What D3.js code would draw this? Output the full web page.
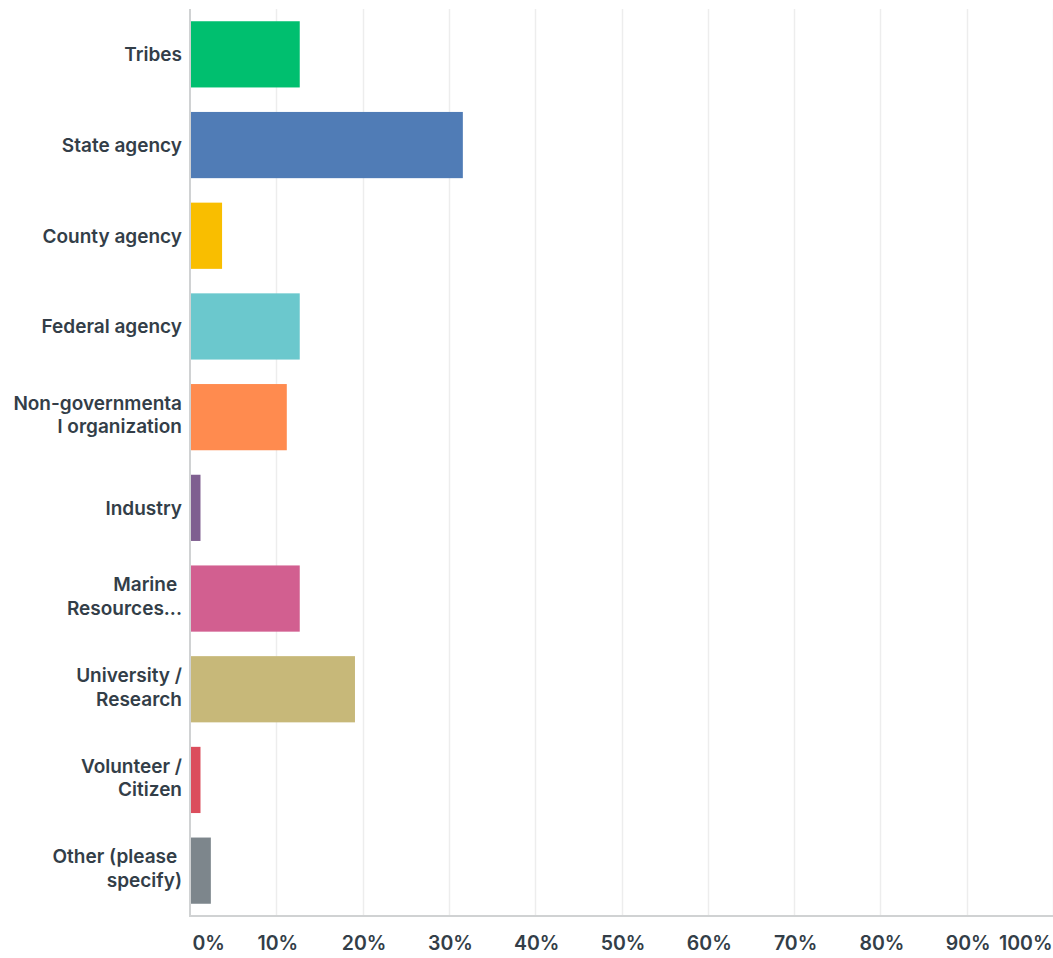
<!DOCTYPE html>
<html>
<head>
<meta charset="utf-8">
<script src="https://cdn.jsdelivr.net/npm/d3@7"></script>
<style>
  html, body { margin: 0; padding: 0; background: #fff; }
  svg text { font-family: Inter, "Open Sans", sans-serif; font-weight: 600; fill: #333e48; }
</style>
</head>
<body>
<svg id="chart" width="1053" height="958"></svg>
<script>
// Response categories, each split into the lines shown beside its bar
const categories = [
  ["Tribes"],
  ["State agency"],
  ["County agency"],
  ["Federal agency"],
  ["Non-governmenta", "l organization"],
  ["Industry"],
  ["Marine ", "Resources..."],
  ["University /", "Research"],
  ["Volunteer /", "Citizen"],
  ["Other (please ", "specify)"]
];
// Share of respondents, percent
const values = [12.6, 31.5, 3.6, 12.6, 11.1, 1.1, 12.6, 19.0, 1.1, 2.3];
const colors = ["#00bf6f", "#507cb6", "#f9be00", "#6bc8cd", "#ff8b4f",
                "#7f5f90", "#d25f90", "#c7b879", "#db4d5c", "#7d868c"];
const tickValues = [0, 10, 20, 30, 40, 50, 60, 70, 80, 90, 100];
const tickLabels = ["0%", "10%", "20%", "30%", "40%", "50%", "60%", "70%", "80%", "90%", "100%"];

const svg = d3.select("#chart");
const plotLeft = 191, plotRight = 1054, plotTop = 9, plotBottom = 916;

const x = d3.scaleLinear().domain([0, 100]).range([plotLeft, plotRight]);
const y = d3.scaleBand()
  .domain(d3.range(categories.length))
  .range([plotTop, plotBottom])
  .paddingInner(0.27)
  .paddingOuter(0.135);

// vertical gridlines
svg.append("g")
  .selectAll("line")
  .data(tickValues.slice(1))
  .join("line")
  .attr("x1", d => Math.round(x(d)) - 0.5)
  .attr("x2", d => Math.round(x(d)) - 0.5)
  .attr("y1", plotTop)
  .attr("y2", plotBottom)
  .attr("stroke", "#ededed")
  .attr("stroke-width", 1.5);

// bars
svg.append("g")
  .selectAll("rect")
  .data(values)
  .join("rect")
  .attr("x", x(0))
  .attr("y", (d, i) => y(i))
  .attr("width", d => x(d) - x(0))
  .attr("height", y.bandwidth())
  .attr("fill", (d, i) => colors[i]);

// axis lines
svg.append("line")
  .attr("x1", 190).attr("x2", 190)
  .attr("y1", plotTop).attr("y2", plotBottom + 1)
  .attr("stroke", "#d0d2d3").attr("stroke-width", 2);
svg.append("line")
  .attr("x1", 190).attr("x2", 1053)
  .attr("y1", plotBottom).attr("y2", plotBottom)
  .attr("stroke", "#d0d2d3").attr("stroke-width", 2);

// bottom tick labels
const xAxis = d3.axisBottom(x)
  .tickValues(tickValues)
  .tickFormat((d, i) => tickLabels[i])
  .tickSize(0)
  .tickPadding(0);
const ax = svg.append("g")
  .attr("transform", `translate(0,${plotBottom})`)
  .call(xAxis);
ax.select(".domain").remove();
ax.selectAll("text")
  .attr("y", 34)
  .attr("dy", 0)
  .style("font-size", "19.5px")
  .attr("text-anchor", d => d === 0 ? "start" : d === 100 ? "end" : "middle")
  .attr("dx", d => d === 0 ? 1 : d === 100 ? -2 : 0);

// category labels
const lineH = 23.5;
const lab = svg.append("g")
  .selectAll("text")
  .data(categories)
  .join("text")
  .attr("text-anchor", "end")
  .style("font-size", "19px")
  .style("white-space", "pre");
lab.each(function(lines, i) {
  const cy = y(i) + y.bandwidth() / 2;
  const n = lines.length;
  d3.select(this).selectAll("tspan")
    .data(lines)
    .join("tspan")
    .attr("x", 182)
    .attr("y", (l, j) => n === 1 ? cy + 7 : cy + 4.5 + (j - (n - 1) / 2) * lineH)
    .text(l => l);
});
</script>
</body>
</html>
